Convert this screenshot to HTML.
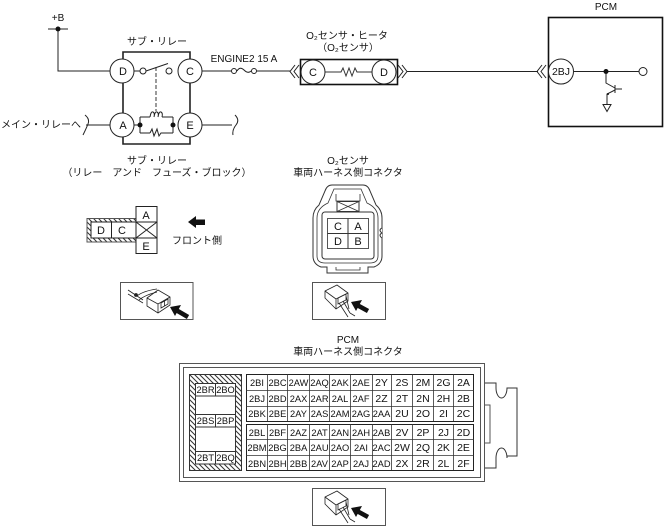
<!DOCTYPE html>
<html><head><meta charset="utf-8">
<style>
html,body{margin:0;padding:0;background:#fff;width:665px;height:526px;overflow:hidden}
svg{display:block}
text{font-family:"Liberation Sans","Noto Sans CJK JP",sans-serif;font-size:10px;fill:#111;text-anchor:middle}
.j{font-size:10px}
.c{font-size:11px}
.g{font-size:9.300px}
.h{font-size:10.500px}
</style></head><body>
<svg width="665" height="526" viewBox="0 0 665 526" xmlns="http://www.w3.org/2000/svg">
<defs>
<pattern id="h" width="5" height="5" patternUnits="userSpaceOnUse"><rect width="5" height="5" fill="#fff"/><path d="M-1 -1L6 6M4 -1L6 1M-1 4L1 6" stroke="#333" stroke-width="1"/></pattern>
</defs>
<g fill="none" stroke="#222" stroke-width="1">
<path d="M48 29H68M58 29V71H111"/>
<path d="M134 71H140M146 71L168 63.500M202 71H231M257 71H290" />
<path d="M86 125H111M202 125H232M134 125H140"/>
<path d="M237 71q3 -5 7 -1t7 1"/>
<path d="M295 65l-5 6.500l5 6.500M299 65l-5 6.500l5 6.500M398 65l5 6.500l-5 6.500M402 65l5 6.500l-5 6.500M407 71.500H538"/>
<path d="M542 65l-5 6.500l5 6.500M546 65l-5 6.500l5 6.500"/>
<path d="M85 115q5 4 3 9t-5 11M235 115q5 5 1 10t-3 10"/>
<path d="M140 117H150M140 133H150M140 117V133M173 117V133M162 117H173M162 133H173"/>
<path d="M150 117q1 -6 3 -5t1 5q1 -6 3 -5t1 5q1 -6 3 -5t1 5"/>
<path d="M150 133l2 -4l2 7l3 -7l2 7l2 -3h2" />
</g>
<path d="M156 67V111" fill="none" stroke="#222" stroke-width=".9" stroke-dasharray="4 2"/>
<path d="M123 60V52H190V60M123 83V113M190 83V113M123 137V144H190V137" fill="none" stroke="#222" stroke-width="1.600"/>
<g fill="#fff" stroke="#222" stroke-width="1">
<circle cx="122" cy="71" r="12"/><circle cx="190" cy="71" r="12"/><circle cx="122" cy="125" r="12"/><circle cx="190" cy="125" r="12"/>
<circle cx="143" cy="71" r="3"/><circle cx="169" cy="71" r="3"/><circle cx="234" cy="71" r="2.500"/><circle cx="254" cy="71" r="2.500"/>
</g>
<g fill="#111"><circle cx="58" cy="29" r="2.500"/><circle cx="140" cy="125" r="2.500"/><circle cx="173" cy="125" r="2.500"/></g>
<text x="58" y="21">+B</text>
<text x="123" y="129" class="c">A</text><text x="123" y="75" class="c">D</text><text x="190" y="75" class="c">C</text><text x="190" y="129" class="c">E</text>
<text x="157" y="45" class="j">サブ・リレー</text>
<text x="244" y="62">ENGINE2 15 A</text>
<text x="41" y="128" class="j">メイン・リレーへ</text>
<text x="157" y="164" class="j">サブ・リレー</text>
<text x="157" y="176" class="j">（リレー　アンド　フューズ・ブロック）</text>

<rect x="300.500" y="59.500" width="97" height="25" fill="#fff" stroke="#111" stroke-width="1.600"/>
<path d="M325 72H341l2 -4l3 8l3 -8l3 8l3 -8l2 4H372" fill="none" stroke="#333"/>
<circle cx="313" cy="72" r="12" fill="#fff" stroke="#222"/><circle cx="384" cy="72" r="12" fill="#fff" stroke="#222"/>
<text x="313" y="76" class="c">C</text><text x="384" y="76" class="c">D</text>
<text x="347" y="39" class="j">O₂センサ・ヒータ</text>
<text x="348" y="51" class="j">（O₂センサ）</text>

<rect x="548.500" y="17.500" width="114" height="109" fill="#fff" stroke="#111" stroke-width="1.600"/>
<path d="M574 71.500H639M606 71.500V83L615 88M615 85V93M615 89H622M615 90L607 94V104" fill="none" stroke="#222"/>
<path d="M603 104.500H611L607 111.500Z" fill="#fff" stroke="#222"/>
<circle cx="561" cy="71.500" r="12.500" fill="#fff" stroke="#222"/>
<circle cx="606" cy="71.500" r="2.500" fill="#111"/><circle cx="643" cy="71.500" r="4" fill="#fff" stroke="#222"/>
<circle cx="608" cy="94" r="1" fill="#111"/>
<text x="561" y="75" style="font-size:10.500px">2BJ</text>
<text x="606" y="10">PCM</text>

<!-- relay connector -->
<path d="M87 218.500H136V242H87Z" fill="url(#h)" stroke="#555"/>
<rect x="91" y="222" width="45" height="16" fill="#fff" stroke="#222"/>
<path d="M111.500 222V238" stroke="#222"/>
<rect x="136" y="206.500" width="21" height="47" fill="#fff" stroke="#222"/>
<path d="M136 222H157M136 238H157M136 222L157 238M157 222L136 238" stroke="#222" fill="none"/>
<text x="101" y="234" class="c">D</text><text x="122" y="234" class="c">C</text>
<text x="146" y="219" class="c">A</text><text x="146" y="250" class="c">E</text>
<path d="M188 222L196 216V219.500H205V225H196V228Z" fill="#111"/>
<text x="197" y="244" class="j">フロント側</text>
<rect x="120.500" y="282.500" width="72.500" height="37" fill="#fff" stroke="#555"/>
<g fill="none" stroke="#222" stroke-width=".8">
<path d="M128 290L143 300M128 294L143 303M137 296q6 -5 20 -7M139 300q6 -5 18 -8"/>
<path d="M147 298L158 290L170 297V305L158 313L147 306ZM147 298L158 304V313M158 304L170 297"/>
<path d="M161 303l7 -4v5l-7 4zM164.500 301v5"/>
<circle cx="136" cy="295" r="1.500" fill="#222"/>
</g>
<path d="M170 307L181 305L175 316Z" fill="#111"/>
<path d="M176 310L188 317" stroke="#111" stroke-width="4.500"/>

<!-- O2 connector -->
<text x="348" y="164" class="j">O₂センサ</text>
<text x="348" y="176" class="j">車両ハーネス側コネクタ</text>
<path d="M332 185H363Q368 185 370 191L376 205Q382 210 382 218V256Q382 264 374 267H368V273H327V267H321Q313 264 313 256V218Q313 210 319 205L325 191Q327 185 332 185Z" fill="#fff" stroke="#333"/>
<path d="M334 189H361L367 203Q378 208 378 218V256Q378 263 370 263H325Q317 263 317 256V218Q317 208 328 203Z" fill="none" stroke="#333" stroke-width=".8"/>
<rect x="322" y="212" width="52" height="47" rx="3" fill="#fff" stroke="#333"/>
<path d="M336 194V201h24V194" fill="none" stroke="#333" stroke-width=".8"/>
<rect x="337" y="201.500" width="22" height="10" fill="#fff" stroke="#333"/>
<path d="M337 201.500L359 211.500M359 201.500L337 211.500M336 267v3h24v-3" stroke="#333" fill="none" stroke-width=".8"/>
<path d="M382 228q-4 2 0 5q-4 2 0 5" fill="#fff" stroke="#333"/>
<rect x="327.500" y="218.500" width="41" height="30" fill="#fff" stroke="#555"/>
<path d="M348 218.500V248.500M327.500 233.500H368.500" stroke="#333"/>
<text x="338" y="230" class="c">C</text><text x="358" y="230" class="c">A</text>
<text x="338" y="245" class="c">D</text><text x="358" y="245" class="c">B</text>
<g id="ic2">
<rect x="312.500" y="282.500" width="73" height="37" fill="#fff" stroke="#555"/>
<g fill="none" stroke="#222" stroke-width=".8"><path d="M325 291L337 285L348 293V301L336 309L325 298ZM325 291L336 299V309M336 299L348 293"/><path d="M338 298l8 -4v6l-8 4zM339 303L348 317M343 301L350 313M350 313L355 316M346 296L349 309"/></g>
<path d="M351 302L362 300L356 311Z" fill="#111"/>
<path d="M357 305L368 311" stroke="#111" stroke-width="4.500"/>
</g>

<!-- PCM connector -->
<text x="348" y="343" class="j">PCM</text>
<text x="348" y="355" class="j">車両ハーネス側コネクタ</text>
<rect x="179.500" y="363.500" width="305" height="118" fill="#fff" stroke="#555"/>
<rect x="183.500" y="367.500" width="297" height="110" fill="none" stroke="#555"/>
<path d="M485 383H496V388a5.500 10 0 0 0 11 0H507V388H517V456H507V458a5.500 10 0 0 0 -11 0V468H485" fill="none" stroke="#333"/>
<path d="M485 405H490V443H485" fill="none" stroke="#555"/>
<rect x="189.500" y="374.500" width="52" height="96" fill="url(#h)" stroke="#333"/>
<g fill="#fff" stroke="#333"><rect x="195.500" y="383.500" width="40" height="80"/><rect x="195.500" y="383.500" width="40" height="12.500"/><rect x="195.500" y="414.500" width="40" height="12.500"/><rect x="195.500" y="451.500" width="40" height="12.500"/></g>
<path d="M215.500 383.500V396M215.500 414.500V427M215.500 451.500V464" stroke="#333"/>
<text x="205.500" y="393" class="g">2BR</text><text x="225.500" y="393" class="g">2BO</text>
<text x="205.500" y="424" class="g">2BS</text><text x="225.500" y="424" class="g">2BP</text>
<text x="205.500" y="461" class="g">2BT</text><text x="225.500" y="461" class="g">2BQ</text>
<g fill="#fff" stroke="#222"><rect x="246.500" y="374.500" width="227" height="47"/><rect x="246.500" y="424.500" width="227" height="46"/></g>
<path d="M246 390.500H474M246 406.500H474M246 439.500H474M246 455.500H474M267.500 374V421M287.500 374V421M309.500 374V421M329.500 374V421M350.500 374V421M372.500 374V421M391.500 374V421M412.500 374V421M433.500 374V421M453.500 374V421M267.500 424V470M287.500 424V470M309.500 424V470M329.500 424V470M350.500 424V470M372.500 424V470M391.500 424V470M412.500 424V470M433.500 424V470M453.500 424V470" stroke="#333" fill="none" stroke-width=".8"/>
<text x="257" y="386" class="g">2BI</text><text x="277.500" y="386" class="g">2BC</text><text x="298.500" y="386" class="g">2AW</text><text x="319.500" y="386" class="g">2AQ</text><text x="340" y="386" class="g">2AK</text><text x="361" y="386" class="g">2AE</text><text x="381.500" y="386" class="h">2Y</text><text x="402" y="386" class="h">2S</text><text x="423" y="386" class="h">2M</text><text x="443.500" y="386" class="h">2G</text><text x="463.500" y="386" class="h">2A</text>
<text x="257" y="402" class="g">2BJ</text><text x="277.500" y="402" class="g">2BD</text><text x="298.500" y="402" class="g">2AX</text><text x="319.500" y="402" class="g">2AR</text><text x="340" y="402" class="g">2AL</text><text x="361" y="402" class="g">2AF</text><text x="381.500" y="402" class="h">2Z</text><text x="402" y="402" class="h">2T</text><text x="423" y="402" class="h">2N</text><text x="443.500" y="402" class="h">2H</text><text x="463.500" y="402" class="h">2B</text>
<text x="257" y="417" class="g">2BK</text><text x="277.500" y="417" class="g">2BE</text><text x="298.500" y="417" class="g">2AY</text><text x="319.500" y="417" class="g">2AS</text><text x="340" y="417" class="g">2AM</text><text x="361" y="417" class="g">2AG</text><text x="381.500" y="417" class="g">2AA</text><text x="402" y="417" class="h">2U</text><text x="423" y="417" class="h">2O</text><text x="443.500" y="417" class="h">2I</text><text x="463.500" y="417" class="h">2C</text>
<text x="257" y="436" class="g">2BL</text><text x="277.500" y="436" class="g">2BF</text><text x="298.500" y="436" class="g">2AZ</text><text x="319.500" y="436" class="g">2AT</text><text x="340" y="436" class="g">2AN</text><text x="361" y="436" class="g">2AH</text><text x="381.500" y="436" class="g">2AB</text><text x="402" y="436" class="h">2V</text><text x="423" y="436" class="h">2P</text><text x="443.500" y="436" class="h">2J</text><text x="463.500" y="436" class="h">2D</text>
<text x="257" y="451" class="g">2BM</text><text x="277.500" y="451" class="g">2BG</text><text x="298.500" y="451" class="g">2BA</text><text x="319.500" y="451" class="g">2AU</text><text x="340" y="451" class="g">2AO</text><text x="361" y="451" class="g">2AI</text><text x="381.500" y="451" class="g">2AC</text><text x="402" y="451" class="h">2W</text><text x="423" y="451" class="h">2Q</text><text x="443.500" y="451" class="h">2K</text><text x="463.500" y="451" class="h">2E</text>
<text x="257" y="467" class="g">2BN</text><text x="277.500" y="467" class="g">2BH</text><text x="298.500" y="467" class="g">2BB</text><text x="319.500" y="467" class="g">2AV</text><text x="340" y="467" class="g">2AP</text><text x="361" y="467" class="g">2AJ</text><text x="381.500" y="467" class="g">2AD</text><text x="402" y="467" class="h">2X</text><text x="423" y="467" class="h">2R</text><text x="443.500" y="467" class="h">2L</text><text x="463.500" y="467" class="h">2F</text>
<use href="#ic2" y="206"/>
</svg>
</body></html>
